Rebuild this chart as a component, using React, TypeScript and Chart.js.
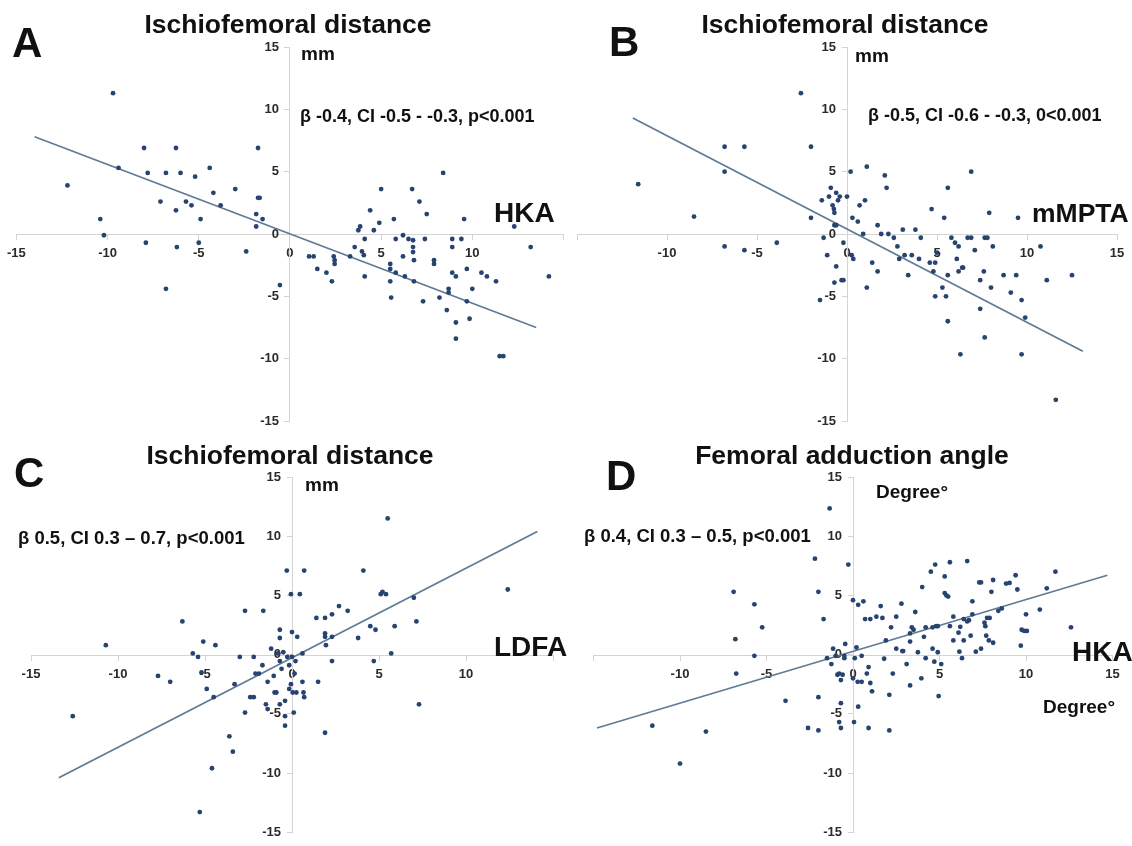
import React, { useEffect, useRef } from 'react';
import { Chart, registerables } from 'chart.js';

Chart.register(...registerables);

const W = 1132;
const H = 846;
const FONT = '"Liberation Sans", Arial, Helvetica, sans-serif';

// ---------- data ----------
// Panel A: HKA (x) vs Ischiofemoral distance (y)
const hkaA = [
  -9.7, -12.2, -10.4, -10.2, -9.4, -8.0, -7.8, -7.9, -7.1, -6.8,
  -6.25, -6.8, -6.25, -6.2, -6.0, -5.7, -5.4, -5.2, -4.9, -5.0,
  -4.4, -4.2, -3.8, -3.0, -2.4, -1.75, -1.75, -1.66, -1.85, -1.5,
  -1.85, -0.55, 1.05, 1.3, 1.5, 2.0, 2.3, 2.4, 2.45, 2.45,
  3.3, 3.55, 3.75, 3.85, 3.95, 4.05, 4.1, 4.1, 4.4, 4.6,
  4.9, 5.0, 5.5, 5.5, 5.5, 5.55, 5.7, 5.8, 5.8, 6.2,
  6.2, 6.3, 6.5, 6.7, 6.75, 6.75, 6.75, 6.8, 6.8, 7.1,
  7.3, 7.4, 7.5, 7.9, 7.9, 8.2, 8.4, 8.6, 8.7, 8.7,
  8.9, 8.9, 8.9, 9.1, 9.1, 9.1, 9.4, 9.55, 9.7, 9.7,
  9.85, 10.0, 10.5, 10.8, 11.3, 11.5, 11.7, 12.3, 13.2, 14.2,
];
const ifdA = [
  11.3, 3.9, 1.2, -0.1, 5.3, 6.9, 4.9, -0.7, 2.6, 4.9,
  6.9, -4.4, 1.9, -1.05, 4.9, 2.6, 2.3, 4.6, 1.2, -0.7,
  5.3, 3.3, 2.3, 3.6, -1.4, 6.9, 2.9, 2.9, 1.6, 1.2,
  0.6, -4.1, -1.8, -1.8, -2.8, -3.1, -3.8, -1.8, -2.1, -2.4,
  -1.8, -1.05, 0.3, 0.6, -1.4, -1.7, -0.4, -3.4, 1.9, 0.3,
  0.9, 3.6, -2.4, -2.8, -3.8, -5.1, 1.2, -0.4, -3.1, -0.1,
  -1.8, -3.4, -0.4, 3.6, -0.5, -1.05, -1.45, -2.1, -3.8, 2.6,
  -5.4, -0.4, 1.6, -2.1, -2.4, -5.1, 4.9, -6.1, -4.4, -4.7,
  -0.4, -1.05, -3.1, -7.1, -8.4, -3.4, -0.4, 1.2, -2.8, -5.4,
  -6.8, -4.4, -3.1, -3.4, -3.8, -9.8, -9.8, 0.6, -1.05, -3.4,
];
const fitXA = [-14.0, 13.5];
const fitYA = [7.8, -7.5];

// Panel B: mMPTA (x) vs Ischiofemoral distance (y)
const mmptaB = [
  -2.56, -11.6, -8.5, -6.8, -6.8, -6.8, -5.7, -5.7, -3.9, -2.0,
  -2.0, -1.5, -1.4, -1.3, -1.1, -1.0, -0.9, -0.8, -0.73, -0.7,
  -0.7, -0.6, -0.7, -0.6, -0.6, -0.5, -0.4, -0.3, -0.2, -0.2,
  0, 0.2, 0.26, 0.35, 0.3, 0.6, 0.7, 1.0, 0.9, 1.1,
  1.1, 1.4, 1.7, 1.7, 1.9, 2.1, 2.2, 2.3, 2.6, 2.8,
  2.9, 3.1, 3.2, 3.4, 3.6, 3.8, 4.0, 4.1, 4.6, 4.7,
  4.8, 4.9, 4.9, 5.0, 5.3, 5.4, 5.5, 5.6, 5.6, 5.6,
  5.8, 6.0, 6.1, 6.2, 6.2, 6.3, 6.4, 6.45, 6.7, 6.9,
  6.9, 7.1, 7.4, 7.4, 7.6, 7.65, 7.8, 7.65, 7.9, 8.0,
  8.1, 8.7, 9.1, 9.4, 9.5, 9.7, 9.7, 9.9, 10.75, 11.1,
  11.6, 12.5,
];
const ifdB = [
  11.3, 4.0, 1.4, 7.0, 5.0, -1.0, 7.0, -1.3, -0.7, 7.0,
  1.3, -5.3, 2.7, -0.3, -1.7, 3.0, 3.7, 2.3, 2.0, 1.7,
  0.7, 3.3, -3.9, -2.6, 0.7, 2.7, 3.0, -3.7, -3.7, -0.7,
  3.0, 5.0, -1.7, -2.0, 1.3, 1.0, 2.3, 2.7, 0, 5.4,
  -4.3, -2.3, 0.7, -3.0, 0, 4.7, 3.7, 0, -0.3, -1.0,
  -2.0, 0.35, -1.7, -3.3, -1.7, 0.35, -2.0, -0.3, -2.3, 2.0,
  -3.0, -5.0, -2.3, -1.5, -4.3, 1.3, -5.0, 3.7, -7.0, -3.3,
  -0.3, -0.7, -2.0, -1.0, -3.0, -9.65, -2.7, -2.7, -0.3, -0.3,
  5.0, -1.3, -3.7, -6.0, -3.0, -0.3, -0.3, -8.3, 1.7, -4.3,
  -1.0, -3.3, -4.7, -3.3, 1.3, -5.3, -9.65, -6.7, -1.0, -3.7,
  -13.3, -3.3,
];
const fitXB = [-11.9, 13.1];
const fitYB = [9.3, -9.4];

// Panel C: LDFA (x) vs Ischiofemoral distance (y)
const ldfaC = [
  5.5, -10.7, -12.6, -6.3, -5.7, -5.4, -5.1, -5.2, -4.9, -4.4,
  -4.5, -7.7, -7.0, -4.6, -5.3, -3.6, -3.4, -3.3, -3.0, -2.7,
  -2.7, -2.4, -2.2, -2.2, -2.1, -1.9, -1.7, -1.65, -1.5, -1.4,
  -1.4, -1.2, -1.05, -1.0, -0.9, -0.8, -0.7, -0.7, -0.7, -0.7,
  -0.6, -0.5, -0.4, -0.4, -0.4, -0.3, -0.27, -0.16, -0.16, -0.06,
  -0.06, 0, 0, 0.04, 0.1, 0.15, 0.2, 0.25, 0.3, 0.45,
  0.6, 0.6, 0.66, 0.7, 0.7, 1.4, 1.5, 1.9, 1.9, 1.9,
  1.95, 1.9, 2.3, 2.3, 2.3, 2.7, 3.2, 3.8, 4.1, 4.5,
  4.8, 4.7, 5.1, 5.2, 5.4, 5.7, 5.9, 7.0, 7.15, 7.3,
  12.4,
];
const ifdC = [
  11.5, 0.8, -5.2, 2.8, 0.1, -0.2, 1.1, -1.5, -2.9, 0.8,
  -3.6, -1.8, -2.3, -9.6, -13.3, -6.9, -8.2, -2.5, -0.2, 3.7,
  -4.9, -3.6, -3.6, -0.2, -1.6, -1.6, -0.9, 3.7, -4.2, -4.6,
  -2.3, 0.5, -1.8, -3.2, -3.2, 0.1, 2.1, 1.4, -0.55, -4.2,
  -1.2, 0.2, -5.2, -6.0, -3.9, 7.1, -0.2, -0.9, -2.9, 5.1,
  -2.5, 1.9, -0.2, -3.2, -4.9, -1.6, -0.55, -3.2, 1.5, 5.1,
  0.1, -2.3, -3.2, 7.1, -3.6, 3.1, -2.3, 3.1, 1.8, 1.5,
  0.8, -6.6, 3.4, 1.5, -0.55, 4.1, 3.7, 1.4, 7.1, 2.4,
  2.1, -0.55, 5.1, 5.3, 5.1, 0.1, 2.4, 4.8, 2.8, -4.2,
  5.5,
];
const fitXC = [-13.4, 14.1];
const fitYC = [-10.4, 10.4];

// Panel D: HKA (x) vs Femoral adduction angle (y)
const hkaD = [
  -1.35, -2.2, -0.27, -6.9, -5.7, -5.25, -6.8, -5.7, -6.75, -3.9,
  -11.6, -8.5, -10.0, -2.6, -2.0, -2.0, -2.0, -1.7, -1.5, -1.25,
  -1.15, -1.0, -0.9, -0.8, -0.7, -0.7, -0.8, -0.7, -0.6, -0.5,
  -0.45, -0.5, 0, 0.3, 0.6, 0, 0.06, 0.1, 0.2, 0.27,
  0.3, 0.5, 0.5, 0.7, 0.8, 0.9, 1.0, 1.0, 1.1, 0.9,
  1.35, 1.6, 1.7, 1.8, 1.9, 2.1, 2.1, 2.2, 2.3, 2.5,
  2.5, 2.8, 2.85, 2.9, 3.1, 3.3, 3.3, 3.3, 3.4, 3.5,
  3.6, 3.75, 3.95, 4.0, 4.1, 4.2, 4.2, 4.5, 4.6, 4.6,
  4.7, 4.75, 4.8, 4.9, 4.9, 4.95, 5.1, 5.3, 5.3, 5.4,
  5.5, 5.6, 5.6, 5.8, 5.8, 6.1, 6.15, 6.2, 6.3, 6.4,
  6.4, 6.6, 6.7, 6.6, 6.9, 6.9, 6.8, 7.1, 7.3, 7.4,
  7.4, 7.6, 7.65, 7.75, 7.7, 7.85, 8.0, 8.1, 8.1, 7.9,
  8.4, 8.6, 8.85, 9.05, 9.4, 9.5, 9.7, 9.75, 9.9, 10.05,
  10.0, 10.8, 11.2, 11.7, 12.6,
];
const faaD = [
  12.35, 8.1, 7.6, 5.3, 4.25, 2.3, 1.3, -0.1, -1.6, -3.9,
  -6.0, -6.5, -9.2, -6.2, -3.6, -6.4, 5.3, 3.0, -0.3, -0.8,
  0.5, -0.1, -1.7, -1.6, -2.15, -4.1, -5.7, -6.2, -1.7, -0.1,
  0.9, -0.3, 4.6, 4.2, 4.5, -2.0, -5.7, -0.3, 0.6, -2.3,
  -4.4, -0.1, -2.3, 3.0, -1.6, -1.05, 3.0, -2.4, -3.1, -6.2,
  3.2, 4.1, 3.1, -0.35, 1.2, -3.4, -6.4, 2.3, -1.6, 3.2,
  0.5, 4.3, 0.3, 0.3, -0.8, 1.8, 1.1, -2.6, 2.3, 2.1,
  3.6, 0.2, -2.0, 5.7, 1.5, 2.3, -0.3, 7.0, 2.3, 0.5,
  -0.6, 7.6, 2.4, 2.4, 0.2, -3.5, -0.8, 6.6, 5.2, 5.0,
  4.9, 2.4, 7.8, 3.2, 1.2, 1.85, 0.25, 2.35, -0.3, 3.0,
  1.2, 2.8, 2.9, 7.9, 4.5, 3.4, 1.6, 0.25, 6.1, 6.1,
  0.5, 2.7, 2.4, 3.1, 1.6, 1.2, 5.3, 6.3, 1.0, 3.1,
  3.7, 3.9, 6.0, 6.05, 6.7, 5.5, 0.75, 2.1, 2.0, 2.0,
  3.4, 3.8, 5.6, 7.0, 2.3,
];
const fitXD = [-14.8, 14.7];
const fitYD = [-6.2, 6.7];

// tick labels shown on each panel
const yTickLabels = ['-15', '-10', '-5', '0', '5', '10', '15'];
const xTickLabelsA = ['-15', '-10', '-5', '0', '5', '10'];
const xTickLabelsB = ['-10', '-5', '0', '5', '10', '15'];
const xTickLabelsC = ['-15', '-10', '-5', '0', '5', '10'];
const xTickLabelsD = ['-10', '-5', '0', '5', '10', '15'];

// ---------- layout (page pixels) ----------
type Area = { left: number; right: number; top: number; bottom: number };
type PanelCfg = {
  xs: number[];
  ys: number[];
  fitX: number[];
  fitY: number[];
  xLabels: string[];
  area: Area;
};

const panels: PanelCfg[] = [
  { xs: hkaA, ys: ifdA, fitX: fitXA, fitY: fitYA, xLabels: xTickLabelsA, area: { left: 14.5, right: 563.5, top: 47, bottom: 421 } },
  { xs: mmptaB, ys: ifdB, fitX: fitXB, fitY: fitYB, xLabels: xTickLabelsB, area: { left: 577, right: 1117, top: 47, bottom: 421 } },
  { xs: ldfaC, ys: ifdC, fitX: fitXC, fitY: fitYC, xLabels: xTickLabelsC, area: { left: 31, right: 553, top: 477, bottom: 840 } },
  { xs: hkaD, ys: faaD, fitX: fitXD, fitY: fitYD, xLabels: xTickLabelsD, area: { left: 593.5, right: 1112.5, top: 477, bottom: 840 } },
];

type Label = { t: string; x: number; y: number; size: number; center?: boolean };
const labels: Label[] = [
  { t: 'A', x: 12, y: 43, size: 42 },
  { t: 'Ischiofemoral distance', x: 288, y: 24, size: 26.5, center: true },
  { t: 'mm', x: 301, y: 53, size: 19 },
  { t: 'β -0.4, CI -0.5 - -0.3, p<0.001', x: 300, y: 116, size: 18 },
  { t: 'HKA', x: 494, y: 213, size: 28 },

  { t: 'B', x: 609, y: 42, size: 42 },
  { t: 'Ischiofemoral distance', x: 845, y: 24, size: 26.5, center: true },
  { t: 'mm', x: 855, y: 55, size: 19 },
  { t: 'β -0.5, CI -0.6 - -0.3, 0<0.001', x: 868, y: 115, size: 18 },
  { t: 'mMPTA', x: 1032, y: 213, size: 26.5 },

  { t: 'C', x: 14, y: 473, size: 42 },
  { t: 'Ischiofemoral distance', x: 290, y: 455, size: 26.5, center: true },
  { t: 'mm', x: 305, y: 484, size: 19 },
  { t: 'β 0.5, CI 0.3 – 0.7, p<0.001', x: 18, y: 538, size: 18.5 },
  { t: 'LDFA', x: 494, y: 647, size: 28 },

  { t: 'D', x: 606, y: 476, size: 42 },
  { t: 'Femoral adduction angle', x: 852, y: 455, size: 26.5, center: true },
  { t: 'Degree°', x: 876, y: 491, size: 19 },
  { t: 'β 0.4, CI 0.3 – 0.5, p<0.001', x: 584, y: 536, size: 18.5 },
  { t: 'HKA', x: 1072, y: 652, size: 28 },
  { t: 'Degree°', x: 1043, y: 706, size: 19 },
];

const POINT_COLOR = '#27436f';
const LINE_COLOR = '#5f7a95';
const AXIS_COLOR = '#d4d4d4';
const TICK_COLOR = '#2a2a2a';

function ScatterPanel({ cfg }: { cfg: PanelCfg }) {
  const ref = useRef<HTMLCanvasElement | null>(null);
  useEffect(() => {
    const canvas = ref.current;
    if (!canvas) return;
    const { area } = cfg;
    const tickFont = { family: FONT, size: 13, weight: 'bold' as const };
    const chart = new Chart(canvas, {
      type: 'scatter',
      data: {
        datasets: [
          {
            type: 'scatter',
            data: cfg.xs.map((x, i) => ({ x, y: cfg.ys[i] })),
            pointRadius: 2.4,
            pointBackgroundColor: POINT_COLOR,
            pointBorderWidth: 0,
            order: 0,
          } as any,
          {
            type: 'line',
            data: cfg.fitX.map((x, i) => ({ x, y: cfg.fitY[i] })),
            borderColor: LINE_COLOR,
            borderWidth: 1.7,
            pointRadius: 0,
            fill: false,
            tension: 0,
            order: 1,
          } as any,
        ],
      },
      options: {
        animation: false,
        responsive: false,
        devicePixelRatio: 1,
        events: [],
        layout: {
          padding: { left: area.left, right: W - area.right, top: area.top, bottom: H - area.bottom },
        },
        plugins: { legend: { display: false }, tooltip: { enabled: false }, title: { display: false } },
        scales: {
          x: {
            type: 'linear',
            position: 'center',
            min: -15,
            max: 15,
            ticks: {
              stepSize: 5,
              autoSkip: false,
              maxRotation: 0,
              minRotation: 0,
              padding: 7,
              color: TICK_COLOR,
              font: tickFont,
              callback: (v: any) => (cfg.xLabels.includes(String(v)) ? String(v) : ''),
            },
            grid: { drawOnChartArea: false, drawTicks: true, tickLength: 5, color: AXIS_COLOR },
            border: { color: AXIS_COLOR, width: 1 },
          },
          y: {
            type: 'linear',
            position: 'center',
            min: -15,
            max: 15,
            ticks: {
              stepSize: 5,
              autoSkip: false,
              padding: 6,
              color: TICK_COLOR,
              font: tickFont,
              callback: (v: any) => (yTickLabels.includes(String(v)) ? String(v) : ''),
            },
            grid: { drawOnChartArea: false, drawTicks: true, tickLength: 5, color: AXIS_COLOR },
            border: { color: AXIS_COLOR, width: 1 },
          },
        },
      } as any,
    });
    return () => chart.destroy();
  }, [cfg]);
  return (
    <canvas
      ref={ref}
      width={W}
      height={H}
      style={{ position: 'absolute', left: 0, top: 0, width: W, height: H }}
    />
  );
}

export default function App() {
  return (
    <div
      style={{
        position: 'fixed',
        left: 0,
        top: 0,
        width: W,
        height: H,
        background: '#ffffff',
        overflow: 'hidden',
        fontFamily: FONT,
      }}
    >
      {panels.map((p, i) => (
        <ScatterPanel key={i} cfg={p} />
      ))}
      {labels.map((l, i) => (
        <div
          key={i}
          style={{
            position: 'absolute',
            left: l.x,
            top: l.y,
            transform: l.center ? 'translate(-50%, -50%)' : 'translateY(-50%)',
            fontSize: l.size,
            fontWeight: 'bold',
            lineHeight: 1,
            whiteSpace: 'nowrap',
            color: '#111111',
            fontFamily: FONT,
          }}
        >
          {l.t}
        </div>
      ))}
    </div>
  );
}
